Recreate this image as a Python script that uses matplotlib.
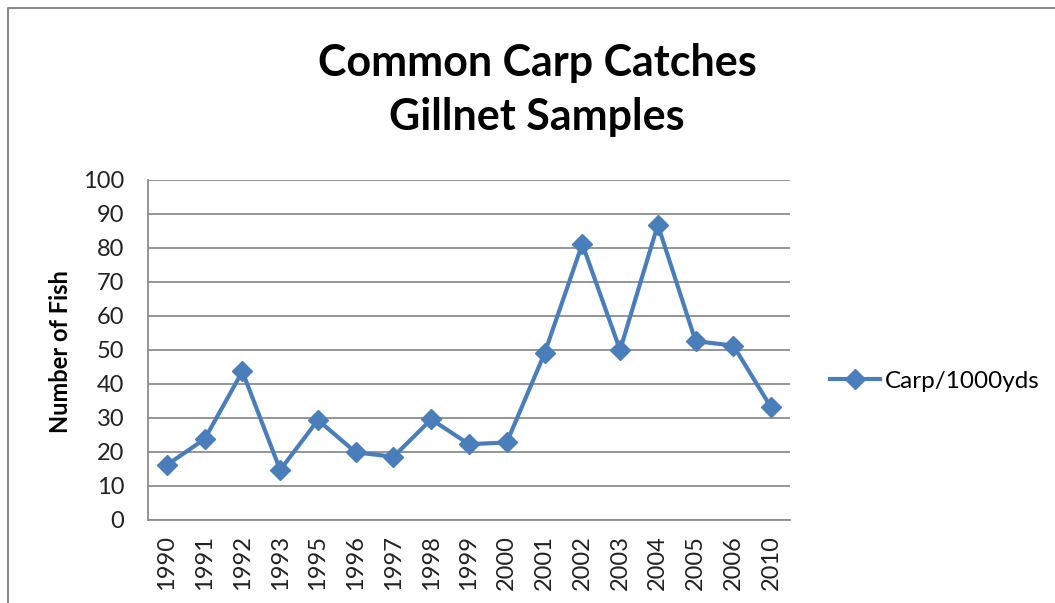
import matplotlib
matplotlib.use("Agg")
import matplotlib.pyplot as plt
from matplotlib.lines import Line2D

years = ["1990", "1991", "1992", "1993", "1995", "1996", "1997", "1998", "1999",
         "2000", "2001", "2002", "2003", "2004", "2005", "2006", "2010"]
carp = [16.2, 23.8, 43.7, 14.7, 29.4, 19.9, 18.6, 29.6, 22.3,
        22.8, 49.0, 81.2, 50.0, 86.8, 52.6, 51.3, 33.1]
yticks = [0, 10, 20, 30, 40, 50, 60, 70, 80, 90, 100]

plt.rcParams['font.family'] = ['Lato', 'DejaVu Sans']

W, H = 1055, 603
fig = plt.figure(figsize=(W / 100, H / 100), dpi=100)
ax = fig.add_axes([148 / W, 1 - 520 / H, 642 / W, 340 / H])

blue = "#4a7ebb"
x = list(range(len(years)))
ax.plot(x, carp, color=blue, lw=3.0, marker="D", ms=10, mec=blue, mfc=blue,
        label="Carp/1000yds", zorder=3)

ax.set_xlim(-0.5, len(years) - 0.5)
ax.set_ylim(0, 100)
ax.set_yticks(yticks)
ax.set_yticklabels([str(v) for v in yticks], fontsize=17, color="#222222")
ax.set_xticks(x)
ax.set_xticklabels(years, rotation=90, fontsize=17, color="#222222")
ax.tick_params(axis="y", length=0, pad=17)
ax.tick_params(axis="x", length=0, pad=11)
ax.grid(axis="y", color="#8c8c8c", lw=1.3)
ax.set_axisbelow(True)
for s in ["top", "right"]:
    ax.spines[s].set_visible(False)
ax.spines["left"].set_color("#8c8c8c")
ax.spines["bottom"].set_color("#8c8c8c")
ax.spines["left"].set_linewidth(1.3)
ax.spines["bottom"].set_linewidth(1.3)

fig.text(60 / W, 1 - 352 / H, "Number of Fish", rotation=90, ha="center",
         va="center", fontsize=17, fontweight="bold")

fig.text(537 / W, 1 - 90 / H, "Common Carp Catches\nGillnet Samples", ha="center",
         va="center", fontsize=31, fontweight="bold", linespacing=1.45)

leg = ax.legend(loc="center left", bbox_to_anchor=(820 / W, 1 - 381 / H),
                bbox_transform=fig.transFigure, frameon=False, fontsize=17.5,
                handlelength=2.05, handletextpad=0.2, borderaxespad=0)

# chart border
fig.add_artist(Line2D([8 / W, 8 / W, 1.0], [0, 1 - 8 / H, 1 - 8 / H],
                      transform=fig.transFigure, color="#8a8a8a", lw=1.5))

fig.savefig("out.png", dpi=100)
